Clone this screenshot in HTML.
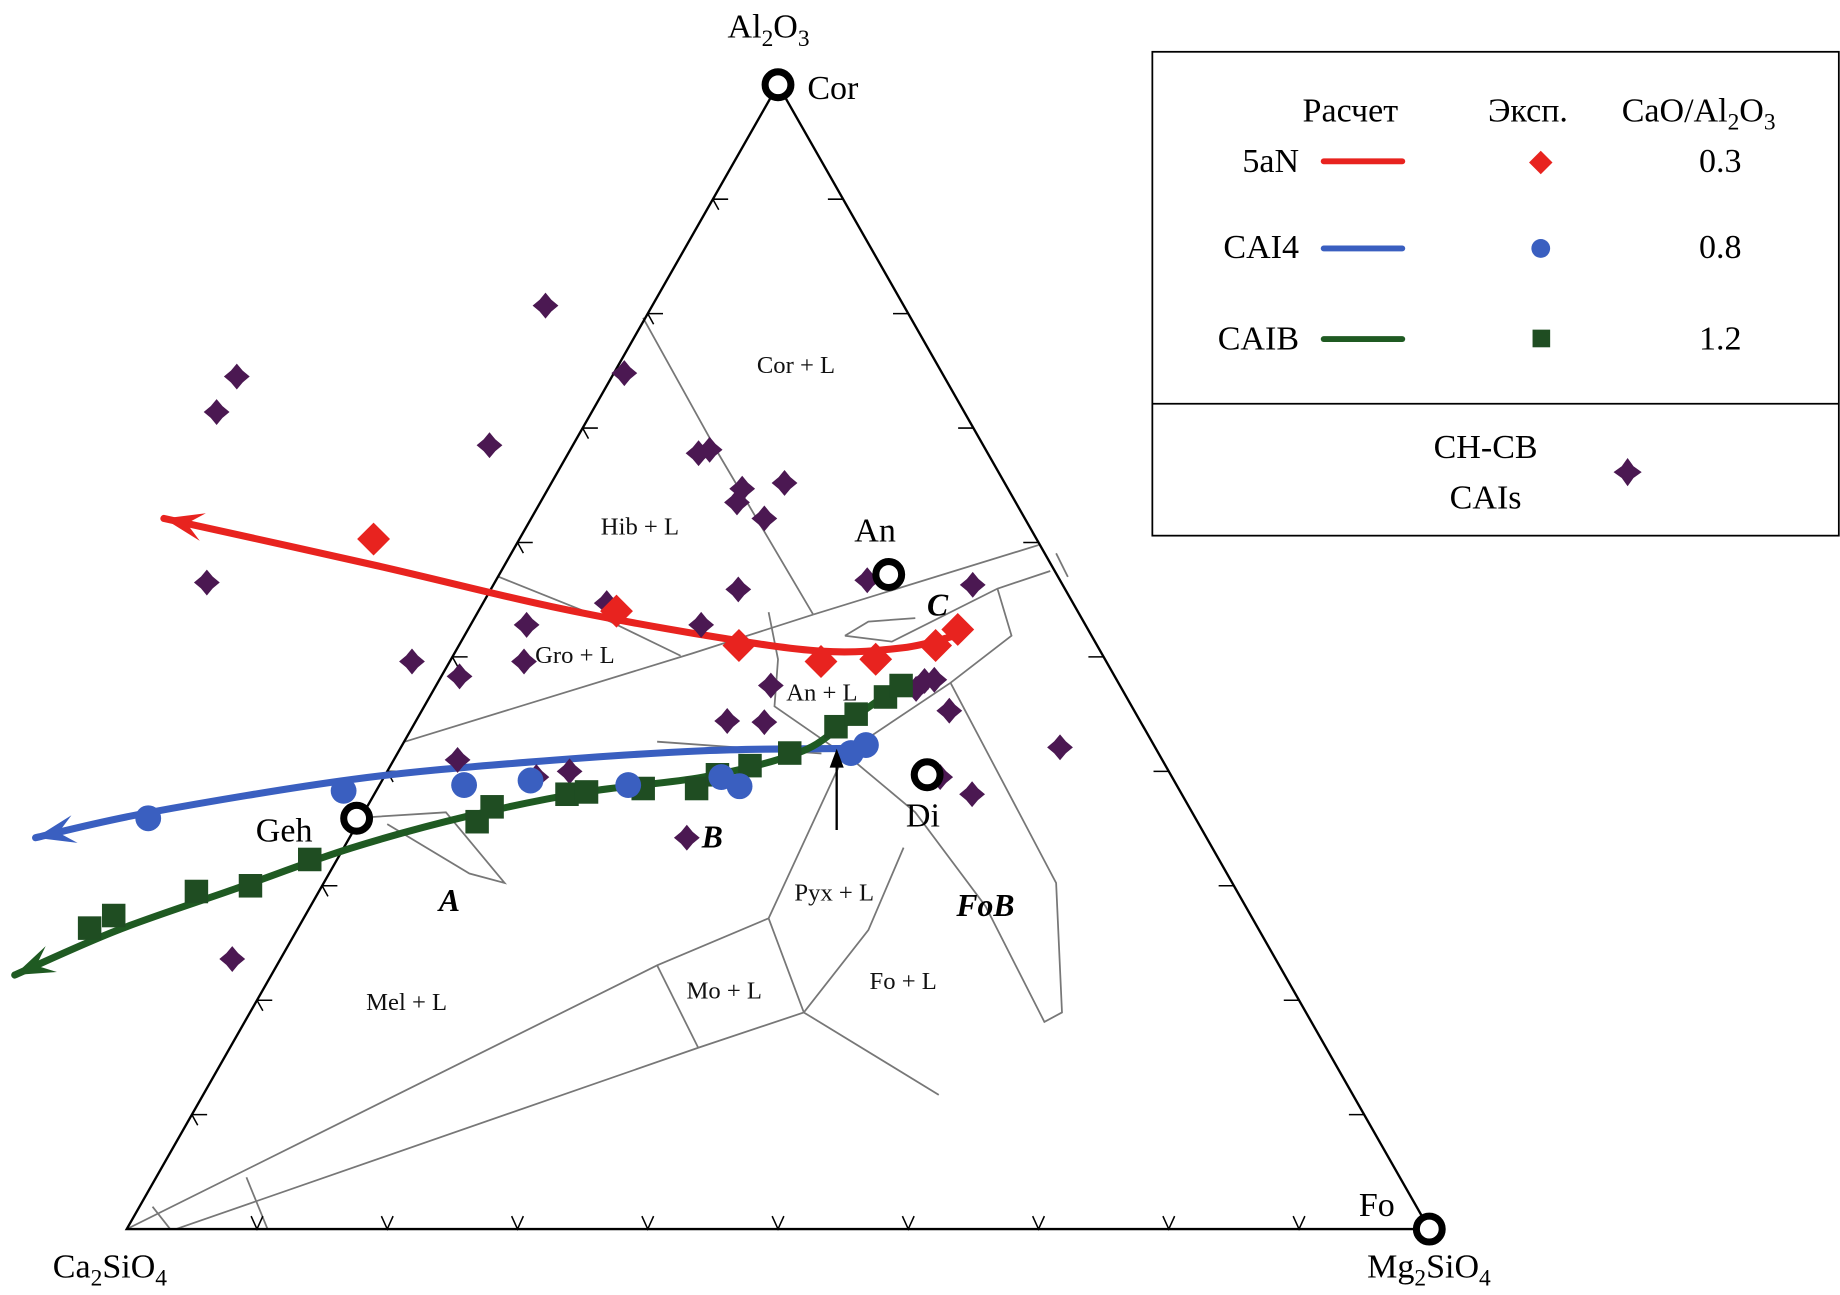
<!DOCTYPE html>
<html><head><meta charset="utf-8"><style>
html,body{margin:0;padding:0;background:#fff;}
svg{display:block;font-family:"Liberation Serif",serif;}
</style></head><body>
<svg id="chart" width="1840" height="1295" viewBox="0 0 1568 1100" preserveAspectRatio="none" xmlns="http://www.w3.org/2000/svg">
<g id="phase" fill="none" stroke="#777" stroke-width="1.5">
<polyline points="548,270 612,385 693,522"/>
<polyline points="693,522 885,463"/>
<polyline points="425,490 520,528 580,557"/>
<polyline points="345,630 590,555 693,522"/>
<polyline points="720,540 760,545 850,500 895,485"/>
<polyline points="720,540 740,528 780,525"/>
<polyline points="850,500 862,540 810,580 720,640"/>
<polyline points="810,580 900,750 905,860 890,868 840,770 780,690 720,640"/>
<polyline points="720,640 655,780 560,820 108,1044"/>
<polyline points="655,780 685,860 595,890 150,1044"/>
<polyline points="560,820 595,890"/>
<polyline points="685,860 800,930"/>
<polyline points="685,860 740,790 770,720"/>
<polyline points="300,695 380,690 430,750 400,742 330,700"/>
<polyline points="560,630 700,640"/>
<polyline points="130,1025 145,1044"/>
<polyline points="210,1000 228,1044"/>
<polyline points="655,520 663,560 660,600 718,640"/>
<polyline points="900,470 910,490"/>
</g>
<g id="frame"></g>
<g id="ticks" stroke="#000" stroke-width="1.3" fill="none"></g>
<g id="curves"></g>
<g id="pts"></g>
<g font-size="21" fill="#111">
<text x="645" y="317">Cor + L</text>
<text x="512" y="454">Hib + L</text>
<text x="456" y="563">Gro + L</text>
<text x="670" y="595">An + L</text>
<text x="677" y="765">Pyx + L</text>
<text x="741" y="840">Fo + L</text>
<text x="585" y="848">Mo + L</text>
<text x="312" y="858">Mel + L</text>
</g>
<g font-size="27" font-style="italic" font-weight="bold">
<text x="374" y="774">A</text>
<text x="598" y="720">B</text>
<text x="790" y="523">C</text>
<text x="815" y="778">FoB</text>
</g>
<line x1="713" y1="705" x2="713" y2="642" stroke="#000" stroke-width="2"/>
<polygon points="713,636 707,652 719,652" fill="#000"/>
<g font-size="29" fill="#000">
<text x="620" y="32">Al<tspan font-size="20" dy="7">2</tspan><tspan dy="-7">O</tspan><tspan font-size="20" dy="7">3</tspan></text>
<text x="688" y="84">Cor</text>
<text x="728" y="460">An</text>
<text x="772" y="702">Di</text>
<text x="218" y="715">Geh</text>
<text x="1158" y="1033">Fo</text>
<text x="45" y="1085">Ca<tspan font-size="20" dy="7">2</tspan><tspan dy="-7">SiO</tspan><tspan font-size="20" dy="7">4</tspan></text>
<text x="1165" y="1085">Mg<tspan font-size="20" dy="7">2</tspan><tspan dy="-7">SiO</tspan><tspan font-size="20" dy="7">4</tspan></text>
</g>
<g>
<rect x="982" y="44" width="585" height="411" fill="#fff" stroke="#000" stroke-width="1.5"/>
<line x1="982" y1="343" x2="1567" y2="343" stroke="#000" stroke-width="1.5"/>
<g font-size="29">
<text x="1110" y="103">Расчет</text>
<text x="1268" y="103">Эксп.</text>
<text x="1382" y="103">CaO/Al<tspan font-size="20" dy="7">2</tspan><tspan dy="-7">O</tspan><tspan font-size="20" dy="7">3</tspan></text>
<text x="1107" y="146" text-anchor="end">5aN</text>
<text x="1107" y="219" text-anchor="end">CAI4</text>
<text x="1107" y="297" text-anchor="end">CAIB</text>
<text x="1466" y="146" text-anchor="middle">0.3</text>
<text x="1466" y="219" text-anchor="middle">0.8</text>
<text x="1466" y="297" text-anchor="middle">1.2</text>
<text x="1266" y="389" text-anchor="middle">CH-CB</text>
<text x="1266" y="432" text-anchor="middle">CAIs</text>
</g>
<line x1="1128" y1="137" x2="1195" y2="137" stroke="#e8231f" stroke-width="5" stroke-linecap="round"/>
<line x1="1128" y1="211" x2="1195" y2="211" stroke="#3a5fc0" stroke-width="5" stroke-linecap="round"/>
<line x1="1128" y1="288" x2="1195" y2="288" stroke="#1f5a22" stroke-width="5" stroke-linecap="round"/>
<polygon points="1313,128 1323,138 1313,148 1303,138" fill="#e8231f"/>
<circle cx="1313" cy="211" r="8" fill="#3a5fc0"/>
<rect x="1306" y="280" width="15" height="15" fill="#1f4d22"/>
<path d="M1387,389 l5,7 l7,5 l-7,5 l-5,7 l-5,-7 l-7,-5 l7,-5z" fill="#4b1852"/>
</g>
<g id="vtx"></g>
</svg>
<script>
// data as [Al2O3 fraction, Mg2SiO4 fraction]
const redCurve=[[0.621,-0.282],[0.580,-0.099],[0.544,0.054],[0.519,0.184],[0.505,0.281],[0.508,0.342],[0.519,0.378]];
const blueCurve=[[0.342,-0.241],[0.364,-0.165],[0.393,-0.023],[0.408,0.104],[0.418,0.234],[0.420,0.341]];
const greenCurve=[[0.222,-0.197],[0.261,-0.138],[0.297,-0.066],[0.333,0.006],[0.361,0.082],[0.382,0.162],[0.395,0.245],[0.416,0.307],[0.441,0.330],[0.477,0.357]];
const redPts=[[0.603,-0.112],[0.540,0.106],[0.510,0.215],[0.496,0.285],[0.498,0.326],[0.510,0.366],[0.524,0.376]];
const bluePts=[[0.359,-0.163],[0.383,-0.025],[0.388,0.065],[0.392,0.114],[0.388,0.191],[0.395,0.259],[0.387,0.277],[0.416,0.348],[0.423,0.356]];
const greenPts=[[0.263,-0.160],[0.274,-0.147],[0.295,-0.094],[0.300,-0.055],[0.323,-0.021],[0.356,0.091],[0.369,0.096],[0.380,0.148],[0.382,0.162],[0.385,0.204],[0.385,0.245],[0.397,0.255],[0.405,0.276],[0.416,0.301],[0.439,0.325],[0.450,0.335],[0.465,0.350],[0.475,0.357]];
const caiPts=[[0.807,-0.082],[0.745,-0.288],[0.714,-0.288],[0.748,0.008],[0.685,-0.064],[0.678,0.100],[0.681,0.107],[0.652,0.179],[0.647,0.149],[0.635,0.151],[0.621,0.179],[0.565,-0.221],[0.559,0.190],[0.547,0.095],[0.528,0.177],[0.528,0.043],[0.496,-0.029],[0.483,0.014],[0.496,0.057],[0.475,0.257],[0.567,0.285],[0.570,0.295],[0.563,0.368],[0.444,0.239],[0.443,0.268],[0.480,0.380],[0.479,0.373],[0.472,0.370],[0.453,0.405],[0.421,0.506],[0.410,0.049],[0.395,0.117],[0.400,0.140],[0.342,0.259],[0.236,-0.037],[0.380,0.459],[0.395,0.427]];
const vertices=[[1,0],[0.572,0.299],[0.397,0.416],[0.359,-0.003],[0,1]];
const tickFracs=[0.1,0.2,0.3,0.4,0.5,0.6,0.7,0.8,0.9];

const X0=108,Y0=1044,W=1110,H=972;
function px(a,m){return X0+W*(m+a/2);}
function py(a){return Y0-H*a;}
const NS="http://www.w3.org/2000/svg";
function mk(tag,attrs,parent){const e=document.createElementNS(NS,tag);for(const k in attrs)e.setAttribute(k,attrs[k]);parent.appendChild(e);return e;}

const frame=document.getElementById('frame');
const tri=mk('polygon',{points:`${px(0,0)},${py(0)} ${px(1,0)},${py(1)} ${px(0,1)},${py(0)}`,fill:'none',stroke:'#000','stroke-width':2},frame);



const tg=document.getElementById('ticks');
tickFracs.forEach(f=>{
  let x=px(0,f),y=py(0);
  let t=mk('path',{d:`M${x-5},${y-11} L${x},${y} L${x+5},${y-11}`},tg);
  
  
  x=px(f,0);y=py(f);
  t=mk('path',{d:`M${x+13},${y} L${x},${y} M${x},${y} L${x+5},${y+9}`},tg);
  
  
  x=px(f,1-f);y=py(f);
  t=mk('path',{d:`M${x-13},${y} L${x},${y} M${x},${y} L${x-5},${y-9}`},tg);
  
  
});

function smoothPath(p){
  let d=`M${p[0][0]},${p[0][1]}`;
  for(let i=0;i<p.length-1;i++){
    const p0=p[Math.max(i-1,0)],p1=p[i],p2=p[i+1],p3=p[Math.min(i+2,p.length-1)];
    const c1=[p1[0]+(p2[0]-p0[0])/6,p1[1]+(p2[1]-p0[1])/6];
    const c2=[p2[0]-(p3[0]-p1[0])/6,p2[1]-(p3[1]-p1[1])/6];
    d+=` C${c1[0]},${c1[1]} ${c2[0]},${c2[1]} ${p2[0]},${p2[1]}`;
  }
  return d;
}
const cg=document.getElementById('curves');
function curve(data,color,name){
  const pts=data.map(d=>[px(d[0],d[1]),py(d[0])]);
  let l=mk('path',{d:smoothPath(pts),fill:'none',stroke:color,'stroke-width':6,'stroke-linejoin':'round','stroke-linecap':'round'},cg);
  
  
  const [x0,y0]=pts[0],[x1,y1]=pts[1];
  const len=Math.hypot(x1-x0,y1-y0),ux=(x1-x0)/len,uy=(y1-y0)/len;
  const bx=x0+ux*28,by=y0+uy*28;
  const a=mk('polygon',{points:`${x0},${y0} ${bx-uy*12+ux*6},${by+ux*12+uy*6} ${x0+ux*20},${y0+uy*20} ${bx+uy*12+ux*6},${by-ux*12+uy*6}`,fill:color},cg);
  
  
}
curve(redCurve,'#e8231f','5an');
curve(blueCurve,'#3a5fc0','cai4');
curve(greenCurve,'#1f5a22','caib');

const pg=document.getElementById('pts');
caiPts.forEach(d=>{const x=px(d[0],d[1]),y=py(d[0]);
  const e=mk('path',{d:`M${x},${y-11} l5,6 l6,5 l-6,5 l-5,6 l-5,-6 l-6,-5 l6,-5z`,fill:'#4b1852'},pg);
  
  });
greenPts.forEach(d=>{const x=px(d[0],d[1]),y=py(d[0]);
  const e=mk('rect',{x:x-10,y:y-10,width:20,height:20,fill:'#1f4d22'},pg);
  
  });
bluePts.forEach(d=>{const x=px(d[0],d[1]),y=py(d[0]);
  const e=mk('circle',{cx:x,cy:y,r:11,fill:'#3a5fc0'},pg);
  
  });
redPts.forEach(d=>{const x=px(d[0],d[1]),y=py(d[0]);
  const e=mk('polygon',{points:`${x},${y-14} ${x+14},${y} ${x},${y+14} ${x-14},${y}`,fill:'#e8231f'},pg);
  
  });

const vg=document.getElementById('vtx');
vertices.forEach(d=>{
  const e=mk('circle',{cx:px(d[0],d[1]),cy:py(d[0]),r:11,fill:'#fff',stroke:'#000','stroke-width':6},vg);
  
  });
</script>
</body></html>
